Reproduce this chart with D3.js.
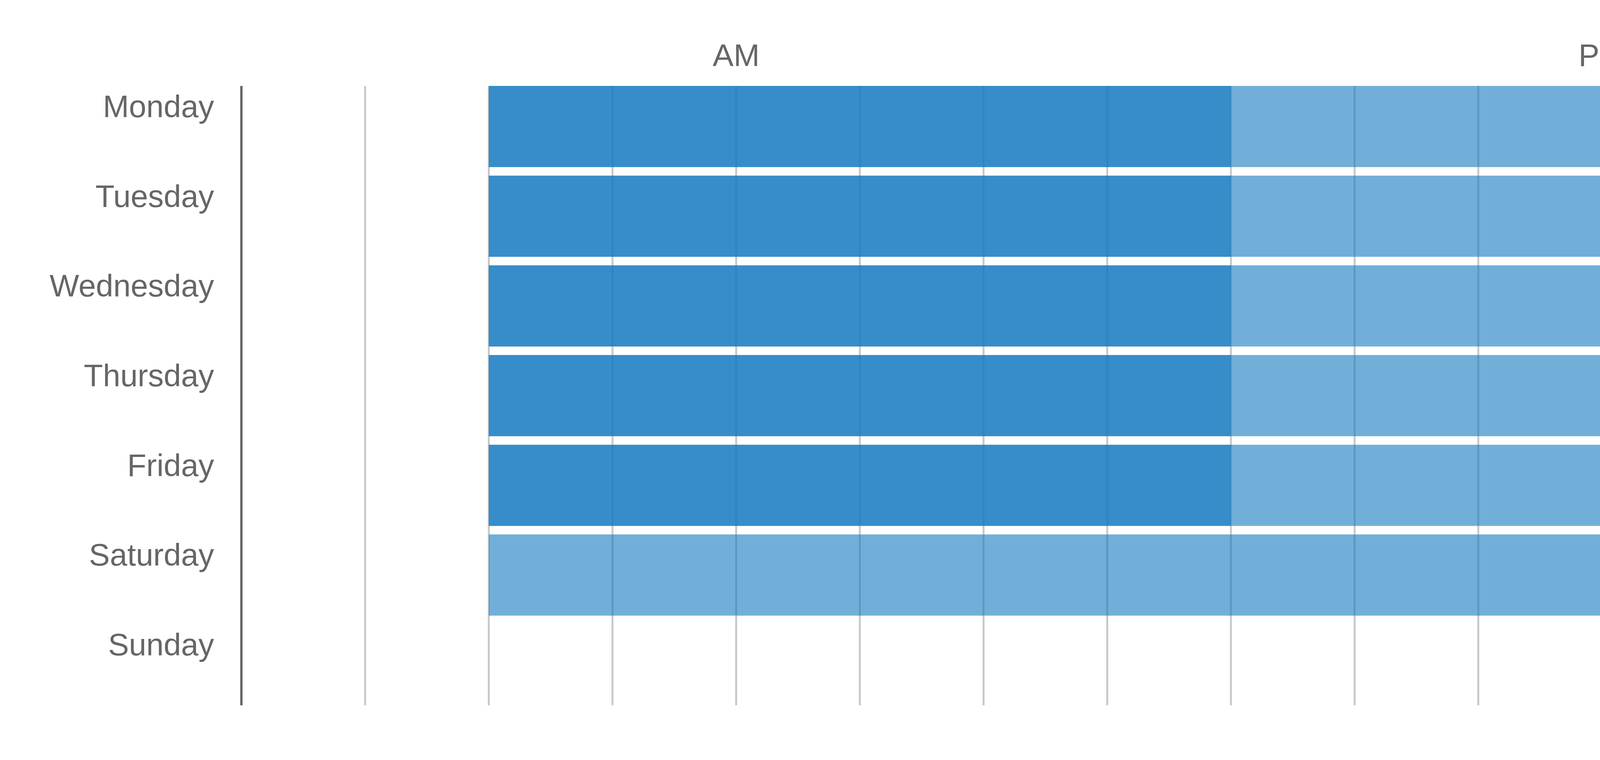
<!DOCTYPE html>
<html>
<head>
<meta charset="utf-8">
<script src="https://cdn.jsdelivr.net/npm/d3@7"></script>
<style>
	body { margin: 0; background: #fff; }
	text { font-family: "Liberation Sans", Arial, sans-serif; fill: #666; }
</style>
</head>
<body>
<svg id="chart" width="5263" height="1946"></svg>
<script>
// rows and the blocks on each row
var days = ['Monday', 'Tuesday', 'Wednesday', 'Thursday', 'Friday', 'Saturday', 'Sunday'];
var hourTicks = [1, 2, 3, 4, 5, 6, 7, 8, 9, 10, 11, 12, 13, 14];
var periodLabels = [{ name: 'AM', at: 4 }, { name: 'PM', at: 11 }];
var blocks = [
	{ day: 'Monday', start: 2, end: 8, kind: 'dark' },
	{ day: 'Monday', start: 8, end: 14, kind: 'light' },
	{ day: 'Tuesday', start: 2, end: 8, kind: 'dark' },
	{ day: 'Tuesday', start: 8, end: 14, kind: 'light' },
	{ day: 'Wednesday', start: 2, end: 8, kind: 'dark' },
	{ day: 'Wednesday', start: 8, end: 14, kind: 'light' },
	{ day: 'Thursday', start: 2, end: 8, kind: 'dark' },
	{ day: 'Thursday', start: 8, end: 14, kind: 'light' },
	{ day: 'Friday', start: 2, end: 8, kind: 'dark' },
	{ day: 'Friday', start: 8, end: 14, kind: 'light' },
	{ day: 'Saturday', start: 2, end: 14, kind: 'light' }
];

var plotLeft = 618, plotRight = 5051, plotTop = 220, plotBottom = 1806;
var svg = d3.select('#chart');

var x = d3.scaleLinear().domain([0, 14]).range([plotLeft, plotRight]);
var y = d3.scaleBand().domain(days).range([plotTop, plotBottom]).paddingInner(0.095).paddingOuter(0);

//	grid
svg.append('g').selectAll('line')
	.data(hourTicks).enter().append('line')
		.attr('x1', d => x(d)).attr('x2', d => x(d))
		.attr('y1', plotTop).attr('y2', plotBottom)
		.attr('stroke', '#c8c8c8').attr('stroke-width', 5);

//	bars
svg.append('g').selectAll('rect')
	.data(blocks).enter().append('rect')
		.attr('x', d => x(d.start))
		.attr('width', d => x(d.end) - x(d.start))
		.attr('y', d => y(d.day))
		.attr('height', y.bandwidth())
		.attr('fill', '#1379bf')
		.attr('fill-opacity', d => d.kind === 'dark' ? 0.85 : 0.6);

//	axis line
svg.append('line')
	.attr('x1', plotLeft).attr('x2', plotLeft)
	.attr('y1', plotTop).attr('y2', plotBottom)
	.attr('stroke', '#666').attr('stroke-width', 6);

//	day labels
svg.append('g').selectAll('text')
	.data(days).enter().append('text')
		.attr('x', plotLeft - 70)
		.attr('y', d => y(d) + 52)
		.attr('dy', '0.35em')
		.attr('text-anchor', 'end')
		.attr('font-size', 80)
		.text(d => d);

//	AM / PM
svg.append('g').selectAll('text')
	.data(periodLabels).enter().append('text')
		.attr('x', d => x(d.at))
		.attr('y', 141)
		.attr('dy', '0.35em')
		.attr('text-anchor', 'middle')
		.attr('font-size', 80)
		.text(d => d.name);
</script>
</body>
</html>
